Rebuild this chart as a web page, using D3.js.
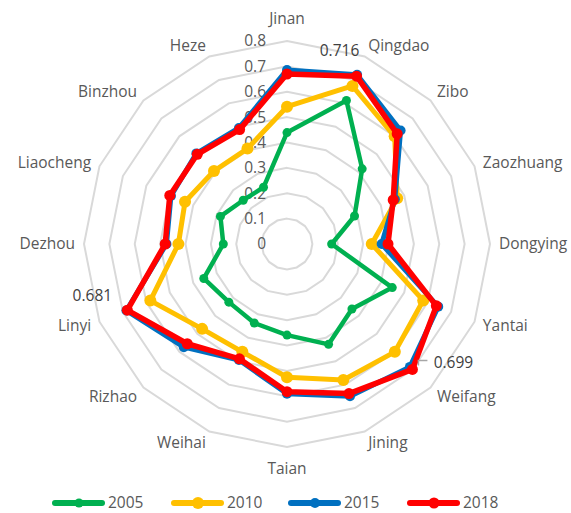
<!DOCTYPE html>
<html>
<head>
<meta charset="utf-8">
<script src="https://cdn.jsdelivr.net/npm/d3@7"></script>
<style>
  body { margin: 0; background: #fff; }
  text { font-family: "Open Sans", "Noto Sans", sans-serif; fill: #595959; }
</style>
</head>
<body>
<div id="chart"></div>
<script>
// cities round the radar, clockwise from the top
var cities = ["Jinan", "Qingdao", "Zibo", "Zaozhuang", "Dongying", "Yantai", "Weifang", "Jining",
  "Taian", "Weihai", "Rizhao", "Linyi", "Dezhou", "Liaocheng", "Binzhou", "Heze"];

var years = ["2005", "2010", "2015", "2018"];

// values
var v2005 = [0.439, 0.612, 0.419, 0.288, 0.176, 0.449, 0.362, 0.428, 0.359, 0.337, 0.324, 0.355, 0.251, 0.284, 0.244, 0.242];
var v2010 = [0.541, 0.674, 0.600, 0.470, 0.334, 0.581, 0.601, 0.580, 0.525, 0.460, 0.473, 0.583, 0.428, 0.435, 0.407, 0.407];
var v2015 = [0.686, 0.722, 0.633, 0.460, 0.373, 0.645, 0.685, 0.649, 0.590, 0.495, 0.575, 0.685, 0.475, 0.495, 0.505, 0.495];
var v2018 = [0.670, 0.716, 0.614, 0.453, 0.398, 0.637, 0.699, 0.638, 0.582, 0.490, 0.556, 0.681, 0.480, 0.500, 0.500, 0.488];

var ticks = [0, 0.1, 0.2, 0.3, 0.4, 0.5, 0.6, 0.7, 0.8];

// the three points that carry a value label (year, city)
var labelled = [["2018", "Qingdao"], ["2018", "Weifang"], ["2018", "Linyi"]];

var series = [v2005, v2010, v2015, v2018];
var colors = { "2005": "#00b050", "2010": "#ffc000", "2015": "#0070c0", "2018": "#ff0000" };
var lineW = { "2005": 4.5, "2010": 5, "2015": 5, "2018": 5.5 };
var dotR = { "2005": 4.5, "2010": 6, "2015": 5, "2018": 5.5 };

var width = 571, height = 513;
var cx = 287, cy = 244;

var svg = d3.select("#chart").append("svg")
    .attr("width", width)
    .attr("height", height);

var r = d3.scaleLinear().domain([0, 0.8]).range([0, 203]);
var angle = d3.scaleLinear().domain([0, cities.length]).range([0, 2 * Math.PI]);

var g = svg.append("g").attr("transform", "translate(" + cx + "," + cy + ")");

function pt(i, v) {
  var a = angle(i);
  return [r(v) * Math.sin(a), -r(v) * Math.cos(a)];
}

// grid rings
var ring = d3.lineRadial()
    .angle(function(d, i) { return angle(i); })
    .radius(function(d) { return r(d); })
    .curve(d3.curveLinearClosed);

g.selectAll(".ring")
    .data(ticks.filter(function(t) { return t > 0; }))
  .enter().append("path")
    .attr("class", "ring")
    .attr("d", function(t) { return ring(cities.map(function() { return t; })); })
    .attr("fill", "none")
    .attr("stroke", "#d9d9d9")
    .attr("stroke-width", 2);

// tick labels up the Jinan axis
g.selectAll(".tick")
    .data(ticks)
  .enter().append("text")
    .attr("class", "tick")
    .attr("x", -21)
    .attr("y", function(t) { return -r(t); })
    .attr("dy", "0.35em")
    .attr("text-anchor", "end")
    .style("font-size", "15.5px")
    .text(function(t) { return d3.format("")(t); });

// category labels
g.selectAll(".cat")
    .data(cities)
  .enter().append("text")
    .attr("class", "cat")
    .attr("x", function(d, i) { return 212 * Math.sin(angle(i)); })
    .attr("y", function(d, i) {
      var c = Math.cos(angle(i));
      var shift = Math.abs(Math.sin(angle(i))) < 0.01 ? 13 : 3;
      return -212 * c - (c > 0.5 ? shift : c < -0.5 ? -shift : 0);
    })
    .attr("dy", "0.35em")
    .attr("text-anchor", function(d, i) {
      var s = Math.sin(angle(i));
      return s > 0.01 ? "start" : s < -0.01 ? "end" : "middle";
    })
    .style("font-size", "15.5px")
    .text(function(d) { return d; });

// series lines and markers, 2018 on top
var line = d3.lineRadial()
    .angle(function(d, i) { return angle(i); })
    .radius(function(d) { return r(d); })
    .curve(d3.curveLinearClosed);

years.forEach(function(y, k) {
  var s = g.append("g").attr("class", "series");
  s.append("path")
      .attr("d", line(series[k]))
      .attr("fill", "none")
      .attr("stroke", colors[y])
      .attr("stroke-width", lineW[y])
      .attr("stroke-linejoin", "round");
  s.selectAll("circle")
      .data(series[k])
    .enter().append("circle")
      .attr("cx", function(d, i) { return pt(i, d)[0]; })
      .attr("cy", function(d, i) { return pt(i, d)[1]; })
      .attr("r", dotR[y])
      .attr("fill", colors[y]);
});

// value labels
var labelOffset = { "Qingdao": [-17, -26], "Weifang": [41, -7], "Linyi": [-35, -15] };
labelled.forEach(function(l) {
  var i = cities.indexOf(l[1]);
  var v = series[years.indexOf(l[0])][i];
  var p = pt(i, v);
  var o = labelOffset[l[1]];
  g.append("text")
      .attr("x", p[0] + o[0])
      .attr("y", p[1] + o[1])
      .attr("dy", "0.35em")
      .attr("text-anchor", "middle")
      .style("font-size", "15.5px")
      .style("fill", "#404040")
      .text(d3.format(".3f")(v));
  if (l[1] == "Weifang") {
    // little leader line
    g.append("path")
        .attr("d", "M" + (p[0] + 6) + "," + (p[1] - 4) + "V" + (p[1] - 9) + "H" + (p[0] + 15))
        .attr("fill", "none")
        .attr("stroke", "#a6a6a6")
        .attr("stroke-width", 1.5);
  }
});

// legend
var legendX = d3.scaleOrdinal().domain(years).range([53, 172, 289, 408]);
var leg = svg.selectAll(".legend")
    .data(years)
  .enter().append("g")
    .attr("class", "legend")
    .attr("transform", function(d) { return "translate(" + legendX(d) + ",503)"; });

leg.append("line")
    .attr("x1", 2).attr("x2", 49)
    .attr("stroke", function(d) { return colors[d]; })
    .attr("stroke-width", 6)
    .attr("stroke-linecap", "round");

leg.append("circle")
    .attr("cx", 26)
    .attr("r", function(d) { return dotR[d]; })
    .attr("fill", function(d) { return colors[d]; });

leg.append("text")
    .attr("x", 55)
    .attr("dy", "0.35em")
    .style("font-size", "15.5px")
    .text(function(d) { return d; });
</script>
</body>
</html>
